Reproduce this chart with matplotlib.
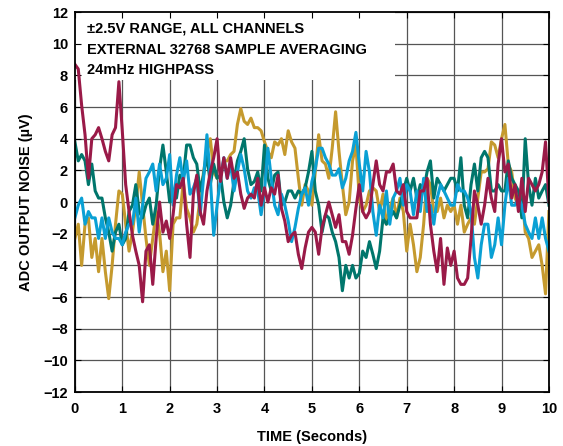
import numpy as np
import matplotlib
matplotlib.use("Agg")
import matplotlib.pyplot as plt
from matplotlib.patches import Rectangle

plt.rcParams['font.family'] = ['Liberation Sans', 'DejaVu Sans']
plt.rcParams['font.weight'] = 'bold'

# time axis: 141 evenly spaced samples over 10 s
time_s = np.linspace(0, 10, 141)

# channel noise in uV (28 points per 2 s + last point)
red = [8.7, 8.4, 6.1, 4.25, 1.5, 4.0, 4.25, 4.7, 4.0, 3.2, 2.6, 4.25, 4.7, 7.6, 4.5, 1.1, -0.6, -2.1, -3.1, -4.0, -6.3, -3.1, -2.7, -5.2, -2.3, 0.0, -1.9, -1.2,
       -2.3, -0.8, 1.1, 0.9, 1.5, -1.4, -3.5, 0.5, 1.7, -0.6, -1.4, 0.7, 1.9, 2.8, 4.0, 1.3, 2.8, 1.5, 2.8, 1.5, 1.9, 0.5, -0.4, 0.25, 0.5, 0.25, 1.5, -0.2,
       0.9, 0.0, 0.9, 0.5, 1.7, -0.4, -1.2, -2.5, -2.1, -1.9, -3.3, -4.2, -2.9, -1.9, -1.6, -1.9, -3.3, -1.6, -0.8, 0.0, -0.8, -1.6, -0.8, -2.5, -2.5, -3.3, -2.1, -0.4,
       1.1, -0.6, -1.0, -0.6, 1.1, 2.6, 1.1, 0.7, 1.9, 1.9, 2.4, 0.7, 0.5, 1.1, -0.6, -1.0, -1.0, -1.0, 0.7, 0.7, 1.5, -1.4, -3.1, -4.4, -2.3, -5.2, -2.9, -4.0,
       -3.1, -4.8, -5.2, -5.2, -4.8, -2.3, 0.7, -0.2, -1.4, -0.2, 1.5, 0.25, -0.6, 2.4, 4.0, 1.9, 2.4, 0.25, 1.1, -0.6, 1.5, -0.6, 1.5, 1.1, 0.7, 1.1, 1.9, 3.8,
       0.0]
teal = [3.8, 2.6, 3.0, 2.6, 1.1, 2.4, 0.7, 0.25, 0.25, -1.0, -1.9, -3.1, -1.9, -1.4, -2.7, -2.3, -0.6, -0.2, 1.1, -0.6, -1.0, -0.2, 0.25, -1.4, -0.2, 2.1, 3.6, 1.9,
        0.0, 0.25, 0.25, 1.7, 1.5, 3.6, 3.6, 2.8, 2.4, 0.7, 1.7, 3.0, 1.1, 2.4, 1.5, 1.7, 0.0, -1.0, -0.2, 1.3, 2.6, 3.2, 4.0, 2.1, 1.1, 1.3, 1.9, 0.7,
        3.6, 1.5, 0.7, 1.7, 1.9, -0.2, 0.0, 0.7, 0.7, 0.25, 0.7, 0.5, 0.9, 1.9, 3.2, 0.7, -0.2, -1.9, -0.8, -1.0, -1.9, -2.5, -3.5, -5.6, -4.0, -4.8, -4.0, -4.8,
        -4.5, -3.1, -3.5, -2.5, -3.3, -4.2, -3.1, -1.0, -1.4, -1.0, -0.6, -1.0, -0.2, 0.7, 1.5, 0.7, 1.5, 0.25, 1.1, 0.7, 1.9, 2.6, 0.25, 1.5, 1.1, 0.7, 1.1, 1.5,
        1.5, 0.7, 2.8, -0.2, -1.0, 1.1, 2.4, 0.7, 2.8, 3.2, 2.8, 0.7, 0.7, 1.1, 0.7, 0.7, 2.6, 1.5, 1.1, 0.7, -1.0, 4.0, 1.1, -0.2, 1.5, 0.25, 0.7, 1.1,
        -0.2]
blue = [-1.0, -0.2, 0.25, -1.4, -0.6, -1.0, -1.0, -2.3, -1.0, -2.3, -1.0, -1.9, -2.3, -2.3, -2.7, -1.9, -1.4, -1.4, 0.25, -1.9, -0.2, 1.5, 1.9, 2.4, 0.7, 2.4, 1.1, 1.5,
        3.0, -0.2, 1.7, 2.8, 1.3, 2.6, 0.5, 0.9, 1.5, -0.8, 1.5, 4.25, 1.5, -2.1, -0.2, 1.5, 2.8, 1.5, 2.4, 0.7, 1.9, 3.0, 2.1, 0.7, 0.25, 0.9, 0.7, -0.8,
        0.7, 3.4, 1.5, -0.2, -0.8, 0.5, -0.2, -1.2, -2.5, -1.6, -0.4, 0.5, 0.9, -0.2, 1.3, 2.1, 3.4, 3.4, 2.8, 2.4, 1.7, 1.7, 2.1, 0.9, 1.5, 2.6, 3.2, 4.4,
        2.4, 0.7, 3.2, 1.9, -0.6, -2.1, -0.2, -1.0, 0.7, -1.4, 0.25, 0.7, 1.5, -0.2, 1.1, 0.7, -0.8, 0.7, -0.6, 1.5, -0.6, -0.2, -1.4, 0.25, 1.1, 0.7, 0.25, -0.2,
        -0.2, 1.1, 0.7, 0.7, 0.25, -0.6, -3.5, -4.8, -2.7, -1.4, -1.4, -3.5, -2.7, -1.0, -2.7, -0.2, 1.5, -0.2, -0.2, 0.25, -0.2, -1.4, -1.9, -2.3, -1.0, -2.3, -1.0, -2.3,
        -3.1]
gold = [-2.3, -1.4, -4.0, -1.4, -1.0, -3.5, -2.3, -4.4, -2.3, -4.4, -6.1, -4.0, -1.4, 0.7, 0.5, -1.4, -3.1, -1.9, -0.2, 1.9, -0.2, -2.3, -4.0, -2.3, -0.6, -1.9, -4.4, -3.1,
        -5.6, -1.4, -1.0, -1.0, 1.3, -0.4, -1.0, -1.9, -1.4, 0.25, 1.9, 3.2, 4.0, 1.9, 1.5, 1.7, 2.6, 2.6, 3.0, 3.2, 4.9, 5.9, 5.1, 4.9, 5.3, 4.7, 4.7, 4.5,
        3.8, 3.2, 2.8, 3.8, 3.6, 4.0, 3.0, 4.5, 3.8, 3.4, 1.5, -0.2, 1.1, 0.7, -0.2, 1.9, 4.25, 2.6, 2.4, 1.5, 3.4, 5.7, 3.2, 1.1, -0.8, 0.0, 2.6, 3.6,
        0.25, -0.6, -0.2, 0.7, 0.9, 0.7, -0.6, 0.5, -1.4, -0.4, 0.25, -1.0, 0.25, -0.6, -3.1, -1.4, -2.7, -4.4, -3.5, -1.4, 1.5, 1.1, -0.6, -0.6, 0.25, -1.0, -0.2, -0.6,
        -0.2, -1.4, -0.2, -1.9, -1.4, -1.0, -1.4, 0.25, 1.9, 1.9, 2.1, 3.8, 3.6, 2.8, 4.0, 4.9, 2.4, 1.9, 0.25, -0.2, 0.7, -1.9, -2.3, -3.5, -3.1, -2.7, -4.0, -5.8,
        -0.6]

x_ticks = list(range(0, 11))
y_ticks = list(range(-12, 13, 2))
notes = ["±2.5V RANGE, ALL CHANNELS", "EXTERNAL 32768 SAMPLE AVERAGING", "24mHz HIGHPASS"]

fig = plt.figure(figsize=(5.63, 4.46), dpi=100)
ax = fig.add_axes([0.133, 0.121, 0.842, 0.852])

# grid drawn by hand so the note box can sit above it
ax.vlines(x_ticks, -12, 12, color='#555555', lw=0.9, zorder=0.6)
ax.hlines(y_ticks, 0, 10, color='#555555', lw=0.9, zorder=0.6)
ax.add_patch(Rectangle((0, 7.7), 6.75, 4.3, facecolor='white', edgecolor='none', zorder=1))

ax.plot(time_s, gold, color='#C59A2E', lw=2.2, zorder=2)
ax.plot(time_s, teal, color='#00766C', lw=2.2, zorder=2.1)
ax.plot(time_s, blue, color='#0AA0D4', lw=2.2, zorder=2.2)
ax.plot(time_s, red, color='#9A1A48', lw=2.2, zorder=2.3)

for i, s in enumerate(notes):
    ax.text(0.25, 10.93 - 1.3 * i, s, fontsize=10.5, fontweight='bold', va='center', ha='left', zorder=3)

ax.set_xlim(0, 10)
ax.set_ylim(-12, 12)
ax.set_xticks(x_ticks)
ax.set_yticks(y_ticks)
ax.tick_params(direction='in', top=True, right=True, length=4, width=0.8, labelsize=10.5)
ax.tick_params(axis='x', pad=7)
ax.tick_params(axis='y', pad=5)
for lab in ax.get_xticklabels() + ax.get_yticklabels():
    lab.set_fontweight('bold')
for sp in ax.spines.values():
    sp.set_linewidth(1.3)

ax.set_xlabel('TIME (Seconds)', fontsize=10.5, fontweight='bold', labelpad=10)
ax.set_ylabel('ADC OUTPUT NOISE (µV)', fontsize=10.5, fontweight='bold', labelpad=7)

fig.savefig('out.png', dpi=100)
